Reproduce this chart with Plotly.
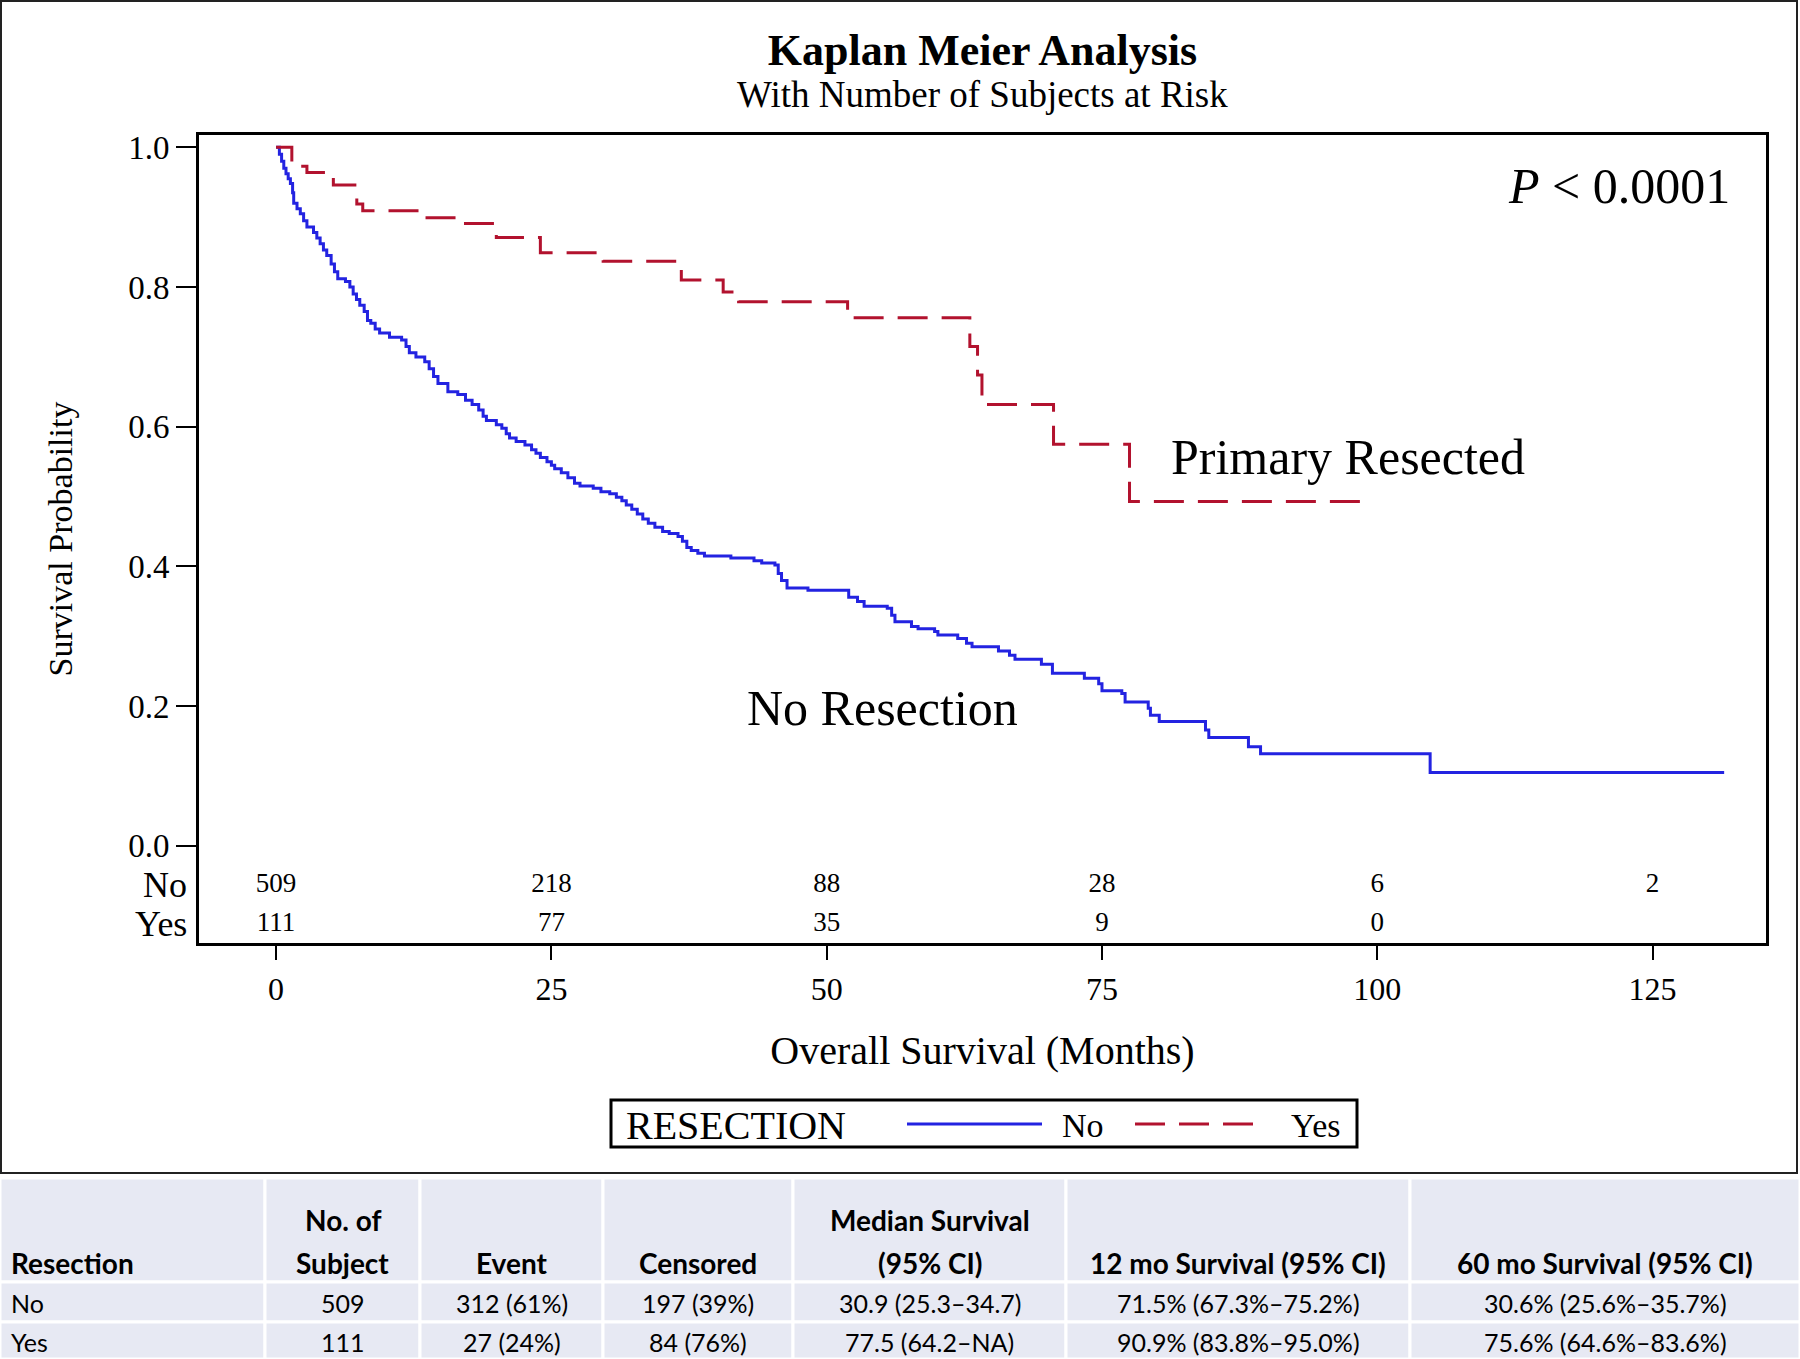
import plotly.graph_objects as go

# ---------------- data ----------------
no_time = [0, 0.3, 0.5, 0.7, 0.9, 1.1, 1.3, 1.5, 1.6, 1.9, 2.2, 2.5, 2.8, 3.4, 3.7, 4.0, 4.3, 4.6,
           5.0, 5.3, 5.6, 6.3, 6.7, 7.0, 7.3, 7.6, 8.0, 8.3, 8.6, 9.0, 9.4, 10.3, 11.4, 11.8, 12.1,
           12.7, 13.5, 13.9, 14.3, 14.7, 15.6, 16.5, 17.2, 17.8, 18.4, 18.8, 19.1, 20.0, 20.5, 20.9,
           21.2, 21.8, 22.6, 23.2, 23.6, 24.0, 24.6, 25.0, 25.3, 25.9, 26.5, 27.1, 27.6, 28.8, 29.5,
           30.3, 30.9, 31.4, 31.8, 32.3, 32.8, 33.3, 33.8, 34.4, 35.1, 35.7, 36.5, 36.9, 37.3, 37.7,
           38.3, 38.9, 41.3, 43.4, 44.1, 45.3, 45.6, 45.9, 46.4, 48.3, 52.0, 52.8, 53.4, 55.5, 55.9,
           56.2, 57.7, 58.3, 59.8, 60.1, 61.9, 62.7, 63.2, 65.6, 66.6, 67.1, 69.5, 70.5, 73.4, 74.7,
           75.0, 76.8, 77.1, 79.2, 79.4, 80.2, 84.4, 84.7, 88.3, 89.4, 104.8, 131.5]
no_surv = [1.0, 0.99, 0.98, 0.97, 0.962, 0.955, 0.948, 0.935, 0.92, 0.912, 0.905, 0.895, 0.886,
           0.878, 0.87, 0.862, 0.853, 0.845, 0.833, 0.822, 0.812, 0.808, 0.80, 0.79, 0.782, 0.774,
           0.765, 0.752, 0.748, 0.74, 0.734, 0.728, 0.724, 0.715, 0.706, 0.70, 0.693, 0.683, 0.672,
           0.662, 0.65, 0.646, 0.638, 0.632, 0.624, 0.615, 0.609, 0.603, 0.598, 0.59, 0.584, 0.579,
           0.574, 0.567, 0.562, 0.556, 0.55, 0.545, 0.54, 0.534, 0.527, 0.519, 0.515, 0.512, 0.507,
           0.504, 0.499, 0.494, 0.488, 0.482, 0.475, 0.468, 0.462, 0.456, 0.450, 0.447, 0.443, 0.436,
           0.427, 0.423, 0.419, 0.415, 0.412, 0.408, 0.405, 0.402, 0.39, 0.38, 0.369, 0.366, 0.356,
           0.35, 0.343, 0.34, 0.33, 0.321, 0.314, 0.311, 0.307, 0.302, 0.297, 0.29, 0.285, 0.279,
           0.273, 0.267, 0.26, 0.247, 0.24, 0.232, 0.222, 0.218, 0.206, 0.197, 0.187, 0.178, 0.166,
           0.155, 0.142, 0.132, 0.105, 0.105]

yes_time = [0, 1.43, 2.8, 5.2, 7.33, 7.87, 13.5, 17.2, 20.0, 24.0, 29.7, 36.8, 40.6, 42.0, 51.9,
            63.0, 63.7, 64.1, 70.6, 77.5, 98.8]
yes_surv = [1.0, 0.973, 0.964, 0.946, 0.919, 0.909, 0.899, 0.891, 0.871, 0.849, 0.837, 0.810,
            0.793, 0.779, 0.756, 0.715, 0.674, 0.632, 0.575, 0.493, 0.493]

risk_times = [0, 25, 50, 75, 100, 125]
risk_no = [509, 218, 88, 28, 6, 2]
risk_yes = [111, 77, 35, 9, 0]

x_ticks = [0, 25, 50, 75, 100, 125]
y_ticks = [0.0, 0.2, 0.4, 0.6, 0.8, 1.0]

legend_title = "RESECTION"
group_names = ["No", "Yes"]

tbl_head_top = ["", "No. of", "", "", "Median Survival", "", ""]
tbl_head_bot = ["Resection", "Subject", "Event", "Censored", "(95% CI)",
                "12 mo Survival (95% CI)", "60 mo Survival (95% CI)"]
tbl_row_no = ["No", "509", "312 (61%)", "197 (39%)", "30.9 (25.3\u201334.7)",
              "71.5% (67.3%\u201375.2%)", "30.6% (25.6%\u201335.7%)"]
tbl_row_yes = ["Yes", "111", "27 (24%)", "84 (76%)", "77.5 (64.2\u2013NA)",
               "90.9% (83.8%\u201395.0%)", "75.6% (64.6%\u201383.6%)"]

# ---------------- layout geometry ----------------
W, H = 1800, 1359
ML, MR, MT, MB = 199, 34, 135, 416
PW, PH = W - ML - MR, H - MT - MB


def px(X):
    return (X - ML) / PW


def py(Y):
    return (H - MB - Y) / PH


SERIF = "Liberation Serif, Times New Roman, serif"
SANS = "Lato, Open Sans, sans-serif"
BLUE = "rgb(35,35,225)"
RED = "rgb(178,18,46)"
DASH = "30px,14px"

fig = go.Figure()
fig.add_trace(go.Scatter(x=no_time, y=no_surv, mode="lines", line_shape="hv", name=group_names[0],
                         line=dict(color=BLUE, width=3), showlegend=False))
fig.add_trace(go.Scatter(x=yes_time, y=yes_surv, mode="lines", line_shape="hv", name=group_names[1],
                         line=dict(color=RED, width=3, dash=DASH), showlegend=False))
fig.add_trace(go.Scatter(x=risk_times, y=[-0.056] * len(risk_no), mode="text",
                         text=[str(v) for v in risk_no], showlegend=False, hoverinfo="skip",
                         textfont=dict(family=SERIF, size=27, color="black")))
fig.add_trace(go.Scatter(x=risk_times[:len(risk_yes)], y=[-0.112] * len(risk_yes), mode="text",
                         text=[str(v) for v in risk_yes], showlegend=False, hoverinfo="skip",
                         textfont=dict(family=SERIF, size=27, color="black")))

annotations = [
    dict(xref="paper", yref="paper", x=0.5, y=py(94), text="With Number of Subjects at Risk",
         showarrow=False, font=dict(family=SERIF, size=37, color="black"), yanchor="middle"),
    dict(x=132.2, y=0.944, text="<i>P</i> &lt; 0.0001", showarrow=False, xanchor="right",
         yanchor="middle", font=dict(family=SERIF, size=50, color="black")),
    dict(x=97.3, y=0.556, text="Primary Resected", showarrow=False, xanchor="center",
         yanchor="middle", font=dict(family=SERIF, size=50, color="black")),
    dict(x=55.1, y=0.197, text="No Resection", showarrow=False, xanchor="center",
         yanchor="middle", font=dict(family=SERIF, size=50, color="black")),
    dict(xref="paper", x=0, y=-0.056, text=group_names[0], showarrow=False, xanchor="right",
         xshift=-10, yanchor="middle", font=dict(family=SERIF, size=36, color="black")),
    dict(xref="paper", x=0, y=-0.112, text=group_names[1], showarrow=False, xanchor="right",
         xshift=-10, yanchor="middle", font=dict(family=SERIF, size=36, color="black")),
]

shapes = [
    dict(type="rect", xref="paper", yref="paper", x0=px(1), x1=px(1797), y0=py(1), y1=py(1173),
         line=dict(color="#222", width=2), fillcolor="rgba(0,0,0,0)", layer="below"),
]

# ---------------- legend (drawn as a boxed key) ----------------
LEG_Y = 1124
shapes.append(dict(type="rect", xref="paper", yref="paper", x0=px(611), x1=px(1357),
                   y0=py(1100), y1=py(1147), line=dict(color="black", width=3),
                   fillcolor="white"))
shapes.append(dict(type="line", xref="paper", yref="paper", x0=px(907), x1=px(1042),
                   y0=py(LEG_Y), y1=py(LEG_Y), line=dict(color=BLUE, width=3)))
shapes.append(dict(type="line", xref="paper", yref="paper", x0=px(1135), x1=px(1261),
                   y0=py(LEG_Y), y1=py(LEG_Y), line=dict(color=RED, width=3, dash=DASH)))
for txt, xl, sz in [(legend_title, 624, 40), (group_names[0], 1060, 34), (group_names[1], 1289, 34)]:
    annotations.append(dict(xref="paper", yref="paper", x=px(xl), y=py(LEG_Y + 1), text=txt,
                            xanchor="left", yanchor="middle", showarrow=False,
                            font=dict(family=SERIF, size=sz, color="black")))

# ---------------- summary table ----------------
col_edges = [0, 265, 420, 603, 793, 1066, 1410, 1800]
row_edges = [1178, 1282, 1322, 1359]
for r in range(3):
    for c in range(7):
        shapes.append(dict(type="rect", xref="paper", yref="paper",
                           x0=px(col_edges[c]), x1=px(col_edges[c + 1]),
                           y0=py(row_edges[r]), y1=py(row_edges[r + 1]),
                           fillcolor="#e7e9f3", line=dict(color="white", width=3), layer="below"))

row_centers = [1303, 1342]
for c in range(7):
    if c == 0:
        xa, xx = "left", px(9)
    else:
        xa, xx = "center", px((col_edges[c] + col_edges[c + 1]) / 2)
    if tbl_head_top[c]:
        annotations.append(dict(xref="paper", yref="paper", x=xx, y=py(1220), xanchor=xa,
                                yanchor="middle", showarrow=False, text="<b>%s</b>" % tbl_head_top[c],
                                font=dict(family=SANS, size=28, color="black")))
    annotations.append(dict(xref="paper", yref="paper", x=xx, y=py(1263), xanchor=xa,
                            yanchor="middle", showarrow=False, text="<b>%s</b>" % tbl_head_bot[c],
                            font=dict(family=SANS, size=28, color="black")))
    for rv, yc in zip([tbl_row_no, tbl_row_yes], row_centers):
        annotations.append(dict(xref="paper", yref="paper", x=xx, y=py(yc), xanchor=xa,
                                yanchor="middle", showarrow=False, text=rv[c],
                                font=dict(family=SANS, size=25, color="black")))

fig.update_layout(
    width=W, height=H,
    margin=dict(l=ML, r=MR, t=MT, b=MB, pad=0),
    paper_bgcolor="white", plot_bgcolor="white",
    title=dict(text="<b>Kaplan Meier Analysis</b>", x=0.5, xref="paper", xanchor="center",
               y=1 - 50 / H, yref="container", yanchor="middle",
               font=dict(family=SERIF, size=44, color="black")),
    xaxis=dict(range=[-7.0, 135.3], tickvals=x_ticks, ticks="outside", ticklen=14, tickwidth=2,
               tickcolor="black", showline=True, linewidth=3, linecolor="black", mirror=True,
               showgrid=False, zeroline=False, ticklabelstandoff=2,
               tickfont=dict(family=SERIF, size=32, color="black"),
               title=dict(text="Overall Survival (Months)", standoff=30,
                          font=dict(family=SERIF, size=40, color="black"))),
    yaxis=dict(range=[-0.139, 1.0176], tickvals=y_ticks, tickformat=".1f", ticks="outside",
               ticklen=20, tickwidth=2, tickcolor="black", showline=True, linewidth=3,
               linecolor="black", mirror=True, showgrid=False, zeroline=False,
               tickfont=dict(family=SERIF, size=33, color="black"),
               title=dict(text="Survival Probability", standoff=46,
                          font=dict(family=SERIF, size=34, color="black"))),
    annotations=annotations,
    shapes=shapes,
    showlegend=False,
)

fig.write_html("out.html", config={"displayModeBar": False},
               post_script="document.body.style.margin='0';")
